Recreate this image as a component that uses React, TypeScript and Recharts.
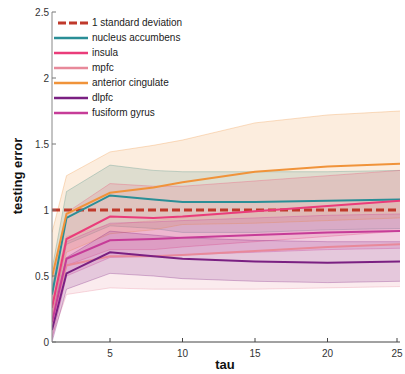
import React from 'react';
import { ComposedChart, Line, Area, XAxis, YAxis, Legend, Label } from 'recharts';

const tau = [1, 2, 5, 8, 10, 15, 20, 25];
const stdDevLine = [1, 1, 1, 1, 1, 1, 1, 1];

const nucleusAccumbens = [0.36, 0.94, 1.11, 1.08, 1.06, 1.06, 1.07, 1.08];
const nucleusAccumbensHi = [0.55, 1.14, 1.34, 1.3, 1.29, 1.29, 1.29, 1.3];
const nucleusAccumbensLo = [0.17, 0.74, 0.88, 0.86, 0.83, 0.83, 0.85, 0.86];

const insula = [0.26, 0.78, 0.95, 0.94, 0.95, 0.99, 1.03, 1.07];
const insulaHi = [0.42, 0.98, 1.2, 1.18, 1.18, 1.22, 1.26, 1.3];
const insulaLo = [0.1, 0.58, 0.7, 0.7, 0.72, 0.76, 0.8, 0.84];

const mpfc = [0.2, 0.58, 0.65, 0.65, 0.66, 0.69, 0.72, 0.74];
const mpfcHi = [0.36, 0.8, 0.89, 0.92, 0.94, 0.99, 1.03, 1.07];
const mpfcLo = [0.04, 0.36, 0.41, 0.4, 0.4, 0.4, 0.41, 0.42];

const anteriorCingulate = [0.49, 0.97, 1.13, 1.17, 1.21, 1.29, 1.33, 1.35];
const anteriorCingulateHi = [0.83, 1.26, 1.44, 1.49, 1.53, 1.66, 1.72, 1.75];
const anteriorCingulateLo = [0.15, 0.68, 0.82, 0.85, 0.89, 0.9, 0.92, 0.94];

const dlpfc = [0.09, 0.52, 0.68, 0.65, 0.63, 0.61, 0.6, 0.61];
const dlpfcHi = [0.2, 0.64, 0.84, 0.81, 0.79, 0.77, 0.76, 0.76];
const dlpfcLo = [0.0, 0.4, 0.52, 0.5, 0.48, 0.46, 0.45, 0.46];

const fusiform = [0.15, 0.63, 0.77, 0.78, 0.79, 0.81, 0.83, 0.84];
const fusiformHi = [0.28, 0.76, 0.9, 0.91, 0.92, 0.94, 0.96, 0.97];
const fusiformLo = [0.02, 0.5, 0.64, 0.65, 0.66, 0.68, 0.7, 0.71];

const xTicks = [5, 10, 15, 20, 25];
const yTicks = [0, 0.5, 1, 1.5, 2, 2.5];

const series = [
  { key: 'na', name: 'nucleus accumbens', color: '#2a8e96', mean: nucleusAccumbens, hi: nucleusAccumbensHi, lo: nucleusAccumbensLo },
  { key: 'ins', name: 'insula', color: '#ea3c7a', mean: insula, hi: insulaHi, lo: insulaLo },
  { key: 'mpfc', name: 'mpfc', color: '#e8899a', mean: mpfc, hi: mpfcHi, lo: mpfcLo },
  { key: 'ac', name: 'anterior cingulate', color: '#f0933a', mean: anteriorCingulate, hi: anteriorCingulateHi, lo: anteriorCingulateLo },
  { key: 'dl', name: 'dlpfc', color: '#7a2082', mean: dlpfc, hi: dlpfcHi, lo: dlpfcLo },
  { key: 'fus', name: 'fusiform gyrus', color: '#c63c98', mean: fusiform, hi: fusiformHi, lo: fusiformLo },
];

const data = tau.map((t, i) => {
  const row: any = { tau: t, sd: stdDevLine[i] };
  series.forEach((s) => {
    row[s.key] = s.mean[i];
    row[s.key + 'Band'] = [s.lo[i], s.hi[i]];
  });
  return row;
});

const FONT = '"Liberation Sans", Arial, sans-serif';

const XTick = (props: any) => {
  const { x, y, payload } = props;
  return (
    <g>
      <line x1={x} y1={y} x2={x} y2={y - 4} stroke="#444" />
      <text x={x} y={y + 15} textAnchor="middle" fontSize={10} fontFamily={FONT} fill="#333">
        {payload.value}
      </text>
    </g>
  );
};

const YTick = (props: any) => {
  const { x, y, payload } = props;
  return (
    <g>
      <line x1={x} y1={y} x2={x + 4} y2={y} stroke="#777" />
      <text x={x - 3} y={y + 4} textAnchor="end" fontSize={10} fontFamily={FONT} fill="#333">
        {payload.value}
      </text>
    </g>
  );
};

const legendItems = [
  { name: '1 standard deviation', color: '#c0392b', dashed: true },
  ...series.map((s) => ({ name: s.name, color: s.color, dashed: false })),
];

const LegendContent = () => (
  <div style={{ fontFamily: FONT, fontSize: 10, color: '#222' }}>
    {legendItems.map((it) => (
      <div key={it.name} style={{ display: 'flex', alignItems: 'center', height: 15 }}>
        <svg width={36} height={6} style={{ marginRight: 2 }}>
          {it.dashed ? (
            <line x1={4} y1={3} x2={34} y2={3} stroke={it.color} strokeWidth={3} strokeDasharray="8 3" />
          ) : (
            <line x1={0} y1={3} x2={34} y2={3} stroke={it.color} strokeWidth={2.5} />
          )}
        </svg>
        <span>{it.name}</span>
      </div>
    ))}
  </div>
);

export default function App() {
  return (
    <div style={{ position: 'absolute', left: 0, top: 0, background: '#fff' }}>
      <ComposedChart width={405} height={374} data={data} margin={{ top: 12, right: 5, bottom: 0, left: 12 }}>
        <XAxis
          dataKey="tau"
          type="number"
          domain={[1, 25]}
          ticks={xTicks}
          tick={<XTick />}
          tickLine={false}
          tickSize={0}
          tickMargin={0}
          height={32}
          stroke="#444"
          allowDataOverflow
        >
          <Label
            content={() => (
              <text x={225} y={369} textAnchor="middle" fontSize={13} fontWeight="bold" fontFamily={FONT} fill="#111">
                tau
              </text>
            )}
          />
        </XAxis>
        <YAxis
          type="number"
          domain={[0, 2.5]}
          ticks={yTicks}
          tick={<YTick />}
          tickLine={false}
          tickSize={0}
          tickMargin={0}
          width={40}
          stroke="#888"
          allowDataOverflow
        >
          <Label
            content={() => (
              <text
                x={22}
                y={176}
                transform="rotate(-90 22 176)"
                textAnchor="middle"
                fontSize={13}
                fontWeight="bold"
                fontFamily={FONT}
                fill="#111"
              >
                testing error
              </text>
            )}
          />
        </YAxis>
        <Legend
          content={<LegendContent />}
          layout="vertical"
          verticalAlign="middle"
          align="center"
          wrapperStyle={{ top: 15, left: 54, width: 'auto' }}
        />
        {series.map((s) => (
          <Area
            key={s.key + 'Band'}
            dataKey={s.key + 'Band'}
            type="linear"
            fill={s.color}
            fillOpacity={0.17}
            stroke={s.color}
            strokeOpacity={0.3}
            strokeWidth={1}
            isAnimationActive={false}
            legendType="none"
            activeDot={false}
          />
        ))}
        <Line
          dataKey="sd"
          type="linear"
          stroke="#c0392b"
          strokeWidth={3}
          strokeDasharray="8 4"
          dot={false}
          isAnimationActive={false}
        />
        {series.map((s) => (
          <Line
            key={s.key}
            dataKey={s.key}
            name={s.name}
            type="linear"
            stroke={s.color}
            strokeWidth={2}
            dot={false}
            isAnimationActive={false}
          />
        ))}
      </ComposedChart>
    </div>
  );
}
